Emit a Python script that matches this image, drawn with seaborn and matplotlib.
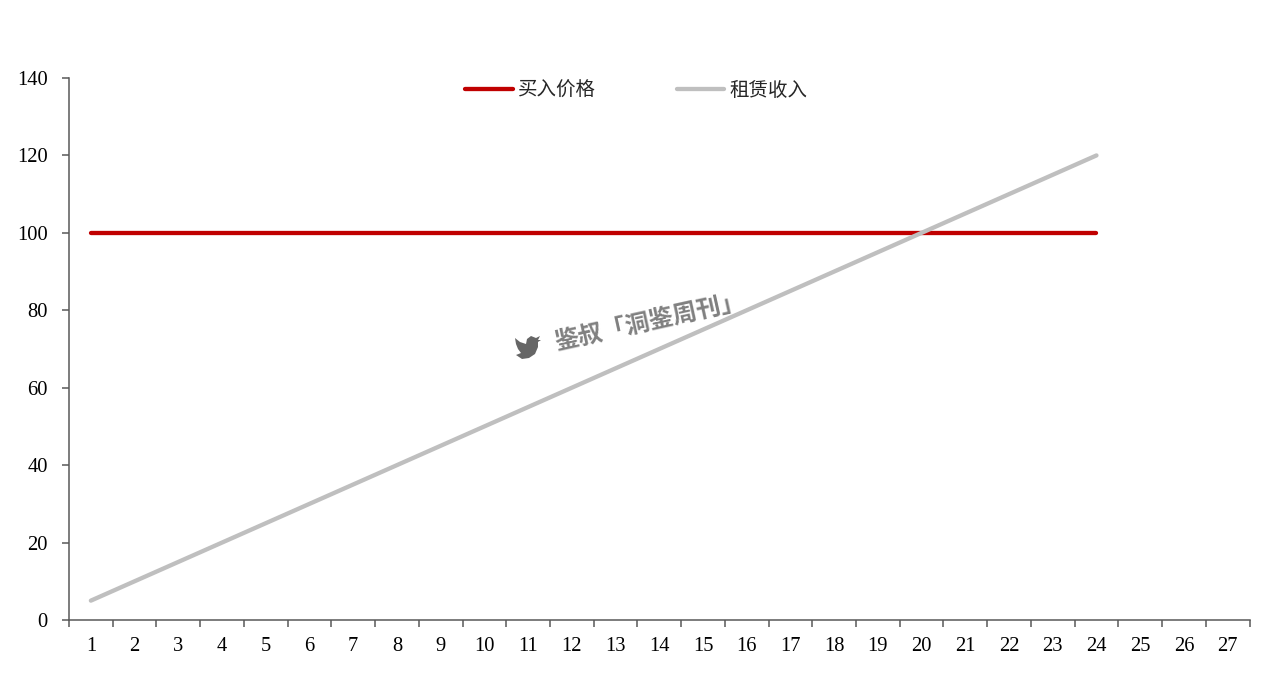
import matplotlib
matplotlib.use('Agg')
import matplotlib.pyplot as plt
from matplotlib.patches import Polygon
from matplotlib.ticker import FixedLocator, NullFormatter
import pandas as pd
import seaborn as sns

months = [1, 2, 3, 4, 5, 6, 7, 8, 9, 10, 11, 12,
          13, 14, 15, 16, 17, 18, 19, 20, 21, 22, 23, 24]
buy_price = [100, 100, 100, 100, 100, 100, 100, 100, 100, 100, 100, 100,
             100, 100, 100, 100, 100, 100, 100, 100, 100, 100, 100, 100]
rent_income = [5, 10, 15, 20, 25, 30, 35, 40, 45, 50, 55, 60,
               65, 70, 75, 80, 85, 90, 95, 100, 105, 110, 115, 120]
x_labels = list(range(1, 28))
y_ticks = [0, 20, 40, 60, 80, 100, 120, 140]

W, H = 1280, 673
GREY_AXIS = '#595959'

sns.set_theme(style='white')
plt.rcParams['font.family'] = ['Liberation Serif', 'Noto Sans CJK SC']

df = pd.DataFrame({
    'month': months * 2,
    'value': buy_price + rent_income,
    'series': ['买入价格'] * len(months) + ['租赁收入'] * len(months),
})

fig = plt.figure(figsize=(W / 100, H / 100), dpi=100, facecolor='white')
ax = fig.add_axes([69 / W, 1 - 620 / H, (1249.5 - 69) / W, (620 - 78) / H])

sns.lineplot(data=df, x='month', y='value', hue='series', ax=ax,
             palette={'买入价格': '#C00000', '租赁收入': '#BFBFBF'},
             linewidth=3.1, solid_capstyle='round', errorbar=None, sort=False)

ax.set_xlim(0.5, 27.5)
ax.set_ylim(0, 140)
ax.set_xlabel('')
ax.set_ylabel('')
sns.despine(ax=ax)
for side in ['left', 'bottom']:
    ax.spines[side].set_color(GREY_AXIS)
    ax.spines[side].set_linewidth(1.1)

# ticks sit between the categories, labels in the middle of them
ax.xaxis.set_major_locator(FixedLocator([m - 0.5 for m in x_labels] + [27.5]))
ax.xaxis.set_major_formatter(NullFormatter())
ax.set_xticks(x_labels, labels=[str(m) for m in x_labels], minor=True)
ax.tick_params(axis='x', which='major', bottom=True, length=5, width=1.1, color=GREY_AXIS)
ax.tick_params(axis='x', which='minor', bottom=False, length=0, pad=12,
               labelsize=14.8, labelcolor='black')
ax.set_yticks(y_ticks)
ax.tick_params(axis='y', left=True, length=5, width=1.1, color=GREY_AXIS, pad=10.3,
               labelsize=14.8, labelcolor='black')

handles, labels = ax.get_legend_handles_labels()
ax.legend(handles, labels, loc='center', bbox_to_anchor=((636.5 - 69) / 1180.5, (620 - 90) / 542),
          ncol=2, frameon=False, handlelength=2.45, handletextpad=0.26, columnspacing=4.15,
          prop={'family': ['Noto Sans CJK SC'], 'size': 14})

# watermark
fig.text(650 / W, 1 - 323 / H, '鉴叔「洞鉴周刊」', family=['Noto Sans CJK SC'], fontsize=17.5,
         fontweight='bold', color='#808080', rotation=12.5, ha='center', va='center')
bird_outline = [(540, 336), (536, 338), (531, 336), (527, 339), (526, 344), (520, 342), (515, 338),
                (516, 344), (518, 349), (521, 353), (516, 355), (522, 359), (529, 358),
                (535, 354), (538, 347), (538, 342), (541, 340), (538, 340)]
fig.add_artist(Polygon([(x / W, 1 - y / H) for x, y in bird_outline], closed=True,
                       transform=fig.transFigure, facecolor='#666666', edgecolor='none'))

fig.savefig('out.png', dpi=100)
